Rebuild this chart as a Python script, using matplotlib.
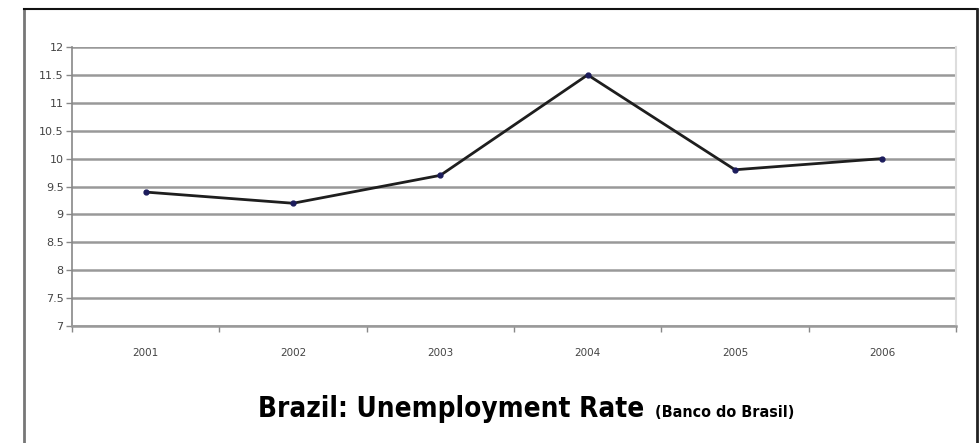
import numpy as np
import matplotlib.pyplot as plt
from matplotlib.lines import Line2D

years = ['2001', '2002', '2003', '2004', '2005', '2006']
rate = [9.4, 9.2, 9.7, 11.5, 9.8, 10.0]
yticks = [7, 7.5, 8, 8.5, 9, 9.5, 10, 10.5, 11, 11.5, 12]
ytick_labels = ['7', '7.5', '8', '8.5', '9', '9.5', '10', '10.5', '11', '11.5', '12']

fig = plt.figure(figsize=(9.8, 4.43), dpi=100)
ax = fig.add_axes([0.0735, 0.264, 0.902, 0.63])

x = np.arange(len(years))
ax.plot(x, rate, color='#1e1e1e', lw=2, marker='o', ms=3.5,
        mfc='#1c1c5c', mec='#1c1c5c', zorder=3)

ax.set_xlim(-0.5, len(years) - 0.5)
ax.set_ylim(7, 12)
ax.set_yticks(yticks)
ax.set_yticklabels(ytick_labels)
ax.set_xticks(x)
ax.set_xticklabels(years)
ax.set_xticks(np.arange(-0.5, len(years)), minor=True)
ax.tick_params(axis='x', which='major', length=0, pad=16,
               labelsize=7.5, labelcolor='#444444')
ax.tick_params(axis='x', which='minor', length=4, color='#888888', width=1)
ax.tick_params(axis='y', length=4, color='#888888', width=1, pad=2,
               labelsize=8, labelcolor='#444444')
ax.grid(axis='y', color='#999999', lw=1.8)
ax.set_axisbelow(True)

ax.spines['top'].set_visible(False)
ax.spines['left'].set_color('#888888')
ax.spines['left'].set_linewidth(1.2)
ax.spines['bottom'].set_color('#999999')
ax.spines['bottom'].set_linewidth(1.8)
ax.spines['right'].set_color('#dddddd')
ax.spines['right'].set_linewidth(1.5)

# outer frame (open at the bottom)
fig.add_artist(Line2D([24 / 980, 24 / 980], [0, 1 - 9 / 443],
                      transform=fig.transFigure, color='#777777', lw=2))
fig.add_artist(Line2D([24 / 980, 977 / 980], [1 - 9 / 443, 1 - 9 / 443],
                      transform=fig.transFigure, color='#111111', lw=1.5))
fig.add_artist(Line2D([977 / 980, 977 / 980], [0, 1 - 9 / 443],
                      transform=fig.transFigure, color='#222222', lw=2))

title_font = ['Liberation Sans Narrow', 'DejaVu Sans']
fig.text(0.657, 0.059, 'Brazil: Unemployment Rate', ha='right', va='baseline',
         fontsize=20, fontweight='bold', family=title_font, stretch='condensed')
fig.text(0.668, 0.059, '(Banco do Brasil)', ha='left', va='baseline',
         fontsize=11.5, fontweight='bold', family=title_font, stretch='condensed')

fig.savefig('out.png', dpi=100)
